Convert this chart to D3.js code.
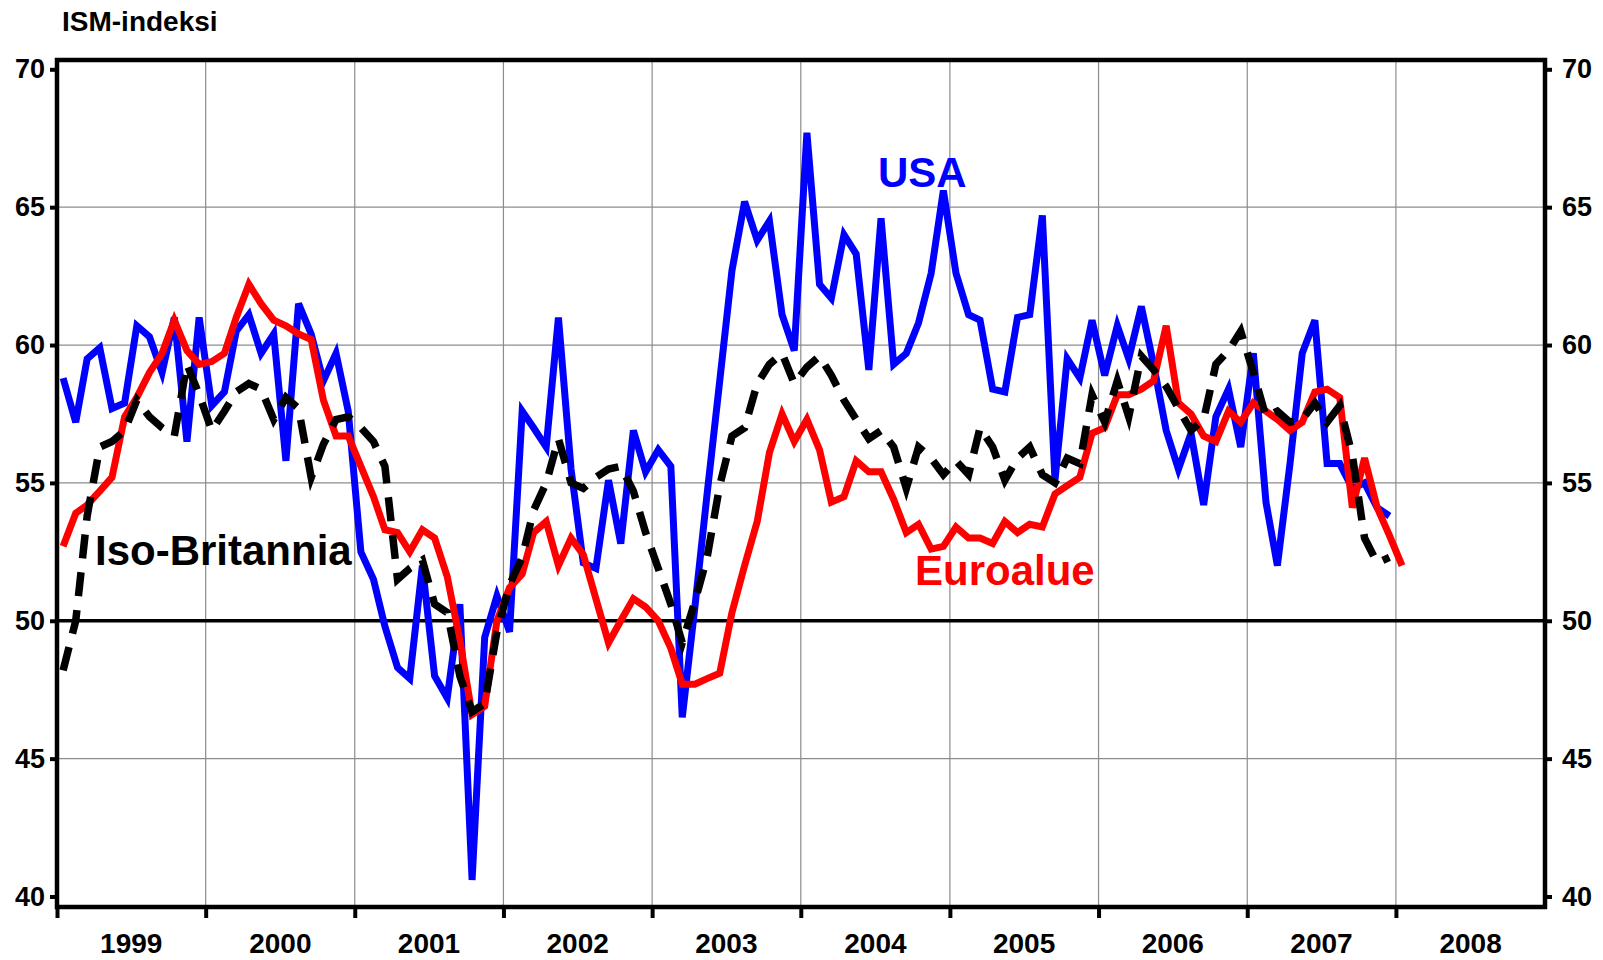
<!DOCTYPE html>
<html>
<head>
<meta charset="utf-8">
<script src="https://cdn.jsdelivr.net/npm/d3@7"></script>
<style>
  body {margin:0; background:#fff;}
  svg text {font-family: "Liberation Sans", Arial, Helvetica, sans-serif; font-weight: bold;}
</style>
</head>
<body>
<script>
// monthly values, Jan 1999 onwards
const usa = [
  58.8, 57.2, 59.5, 59.9, 57.7, 57.9, 60.7, 60.3, 59.0, 61.0, 56.5, 61.0,
  57.8, 58.3, 60.5, 61.1, 59.7, 60.4, 55.8, 61.5, 60.4, 58.7, 59.7, 57.6,
  52.5, 51.5, 49.8, 48.3, 47.9, 52.0, 48.0, 47.2, 50.6, 40.6, 49.4, 50.9,
  49.6, 57.6, 57.0, 56.3, 61.0, 55.5, 52.1, 51.9, 55.1, 52.8, 56.9, 55.4,
  56.2, 55.6, 46.5, 50.5, 54.6, 58.7, 62.7, 65.2, 63.8, 64.5, 61.1, 59.8,
  67.7, 62.2, 61.7, 64.0, 63.3, 59.1, 64.6, 59.3, 59.7, 60.8, 62.6, 65.6,
  62.6, 61.1, 60.9, 58.4, 58.3, 61.0, 61.1, 64.7, 55.1, 59.5, 58.8, 60.9,
  58.9, 60.7, 59.5, 61.4, 59.3, 56.9, 55.5, 56.8, 54.2, 57.4, 58.4, 56.3,
  59.7, 54.3, 52.0, 55.7, 59.7, 60.9, 55.7, 55.7, 54.8, 55.0, 54.1, 53.8
];
const euro = [
  52.7, 53.9, 54.2, 54.7, 55.2, 57.4, 58.1, 59.0, 59.7, 60.9, 59.8, 59.3,
  59.4, 59.7, 61.0, 62.2, 61.5, 60.9, 60.7, 60.4, 60.2, 58.0, 56.7, 56.7,
  55.6, 54.5, 53.3, 53.2, 52.5, 53.3, 53.0, 51.6, 49.3, 46.6, 46.9, 50.0,
  51.2, 51.7, 53.2, 53.6, 52.0, 53.0, 52.4, 50.8, 49.2, 50.0, 50.8, 50.5,
  50.0, 49.0, 47.7, 47.7, 47.9, 48.1, 50.3, 52.0, 53.6, 56.1, 57.5, 56.5,
  57.3, 56.2, 54.3, 54.5, 55.8, 55.4, 55.4, 54.4, 53.2, 53.5, 52.6, 52.7,
  53.4, 53.0, 53.0, 52.8, 53.6, 53.2, 53.5, 53.4, 54.6, 54.9, 55.2, 56.8,
  57.0, 58.2, 58.2, 58.4, 58.7, 60.7, 57.9, 57.5, 56.7, 56.5, 57.6, 57.2,
  57.9, 57.6, 57.3, 56.9, 57.2, 58.3, 58.4, 58.1, 54.1, 55.9, 54.1, 53.1,
  52.0
];
const uk = [
  48.2, 50.0, 53.8, 56.3, 56.5, 56.9, 58.0, 57.4, 57.0, 56.7, 59.3, 58.2,
  56.9, 57.6, 58.3, 58.6, 58.4, 57.3, 58.1, 57.7, 55.2, 56.4, 57.3, 57.4,
  57.0, 56.5, 55.6, 51.5, 51.9, 52.2, 50.6, 50.3, 48.0, 46.7, 47.0, 49.6,
  51.3, 52.3, 54.0, 55.0, 56.6, 55.0, 54.8, 55.2, 55.5, 55.6, 54.7, 53.2,
  51.9, 50.6, 49.2, 50.7, 52.3, 54.9, 56.7, 57.0, 58.6, 59.3, 59.7, 58.6,
  59.2, 59.6, 58.9, 58.0, 57.3, 56.6, 56.9, 56.3, 54.8, 56.3, 55.9, 55.3,
  55.8, 55.3, 57.0, 56.3, 55.1, 55.9, 56.3, 55.3, 55.0, 55.9, 55.7, 58.2,
  57.2, 58.7, 57.4, 59.6, 59.1, 58.5, 57.7, 56.9, 57.3, 59.3, 59.8, 60.5,
  59.0, 57.4, 57.6, 57.2, 57.3, 57.9, 57.2, 57.8, 56.0, 53.0, 52.1, 52.3
];
const years = [1999, 2000, 2001, 2002, 2003, 2004, 2005, 2006, 2007, 2008];
const yTicks = [40, 45, 50, 55, 60, 65, 70];
const yGrid = [45, 55, 60, 65];

const width = 1603, height = 960;
const plot = {left: 57, right: 1545, top: 60, bottom: 907};

const svg = d3.select("body").append("svg")
  .attr("width", width)
  .attr("height", height);

const x = d3.scaleTime()
  .domain([new Date(1999, 0, 1), new Date(2009, 0, 1)])
  .range([plot.left, plot.right]);
const y = d3.scaleLinear()
  .domain([40, 70])
  .range([896.5, 69.3]);

const month = i => new Date(1999, i, 16);

// grid
svg.append("g").selectAll("line")
  .data(years.slice(1))
  .join("line")
  .attr("x1", d => x(new Date(d, 0, 1))).attr("x2", d => x(new Date(d, 0, 1)))
  .attr("y1", plot.top).attr("y2", plot.bottom)
  .attr("stroke", "#8c8c8c").attr("stroke-width", 1.2);
svg.append("g").selectAll("line")
  .data(yGrid)
  .join("line")
  .attr("x1", plot.left).attr("x2", plot.right)
  .attr("y1", d => y(d)).attr("y2", d => y(d))
  .attr("stroke", "#8c8c8c").attr("stroke-width", 1.2);

svg.append("line")
  .attr("x1", plot.left).attr("x2", plot.right)
  .attr("y1", y(50)).attr("y2", y(50))
  .attr("stroke", "#000").attr("stroke-width", 3.5);

// series
const line = d3.line()
  .x((d, i) => x(month(i)))
  .y(d => y(d));

svg.append("path").datum(usa)
  .attr("d", line)
  .attr("fill", "none").attr("stroke", "#0000ff").attr("stroke-width", 7);
svg.append("path").datum(euro)
  .attr("d", line)
  .attr("fill", "none").attr("stroke", "#ff0000").attr("stroke-width", 7);
svg.append("path").datum(uk)
  .attr("d", line)
  .attr("fill", "none").attr("stroke", "#000").attr("stroke-width", 7.5)
  .attr("stroke-dasharray", "24,14");

// frame
svg.append("rect")
  .attr("x", plot.left).attr("y", plot.top)
  .attr("width", plot.right - plot.left).attr("height", plot.bottom - plot.top)
  .attr("fill", "none").attr("stroke", "#000").attr("stroke-width", 4.5);

// axes
function styleAxis(g, size) {
  g.select(".domain").remove();
  g.selectAll(".tick line").attr("stroke", "#000").attr("stroke-width", 4);
  g.selectAll(".tick text").attr("fill", "#000").style("font-size", size + "px");
}

svg.append("g")
  .attr("transform", `translate(${plot.left},0)`)
  .call(d3.axisLeft(y).tickValues(yTicks).tickSizeInner(7).tickSizeOuter(0).tickPadding(5))
  .call(g => styleAxis(g, 27));

svg.append("g")
  .attr("transform", `translate(${plot.right},0)`)
  .call(d3.axisRight(y).tickValues(yTicks).tickSizeInner(7).tickSizeOuter(0).tickPadding(10))
  .call(g => styleAxis(g, 27));

svg.append("g")
  .attr("transform", `translate(0,${plot.bottom})`)
  .call(d3.axisBottom(x).tickValues(years.map(d => new Date(d, 0, 1))).tickSizeInner(11).tickSizeOuter(0).tickFormat(""))
  .call(g => styleAxis(g, 28));

svg.append("g")
  .attr("transform", `translate(0,${plot.bottom})`)
  .call(d3.axisBottom(x).tickValues(years.map(d => new Date(d, 6, 1))).tickSize(0).tickPadding(26).tickFormat(d3.timeFormat("%Y")))
  .call(g => styleAxis(g, 28));

// titles and series labels
svg.append("text").attr("x", 62).attr("y", 31)
  .style("font-size", "28px").text("ISM-indeksi");

svg.append("text").attr("x", 878).attr("y", 187)
  .attr("fill", "#0000ff").style("font-size", "42px").text("USA");
svg.append("text").attr("x", 95).attr("y", 565)
  .attr("fill", "#000").style("font-size", "42px").text("Iso-Britannia");
svg.append("text").attr("x", 915).attr("y", 585)
  .attr("fill", "#ff0000").style("font-size", "42px").text("Euroalue");
</script>
</body>
</html>
